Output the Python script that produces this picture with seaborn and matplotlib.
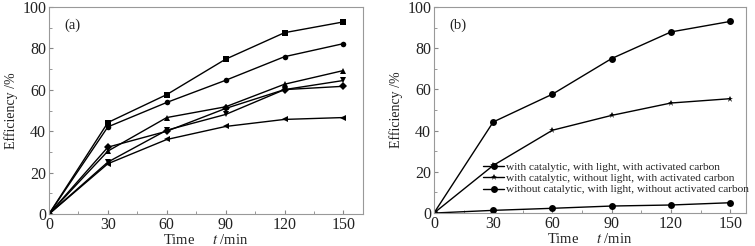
import numpy as np
import pandas as pd
import matplotlib
matplotlib.use("Agg")
import matplotlib.pyplot as plt
import seaborn as sns
from matplotlib.ticker import MultipleLocator

sns.set_theme(style="white")
plt.rcParams['font.family'] = ['Liberation Serif', 'DejaVu Serif']
plt.rcParams['mathtext.fontset'] = 'stix'

time = [0, 30, 60, 90, 120, 150]
# panel (a)
a_square = [0, 44.2, 57.7, 74.8, 87.6, 92.8]
a_circle = [0, 42.1, 53.9, 64.6, 76.0, 82.3]
a_up = [0, 30.4, 46.6, 51.8, 62.7, 69.3]
a_down = [0, 25.1, 40.5, 48.1, 60.1, 64.5]
a_diamond = [0, 32.3, 40.0, 51.0, 60.1, 61.7]
a_left = [0, 24.3, 36.0, 42.3, 45.7, 46.6]
# panel (b)
b_labels = ["with catalytic, with light, with activated carbon",
            "with catalytic, without light, with activated carbon",
            "without catalytic, with light, without activated carbon"]
b_full = [0, 44.2, 57.7, 75.0, 87.9, 93.0]
b_nolight = [0, 23.1, 40.2, 47.4, 53.4, 55.5]
b_nocat = [0, 1.3, 2.3, 3.4, 3.9, 5.0]

xticks = [0, 30, 60, 90, 120, 150]
yticks = [0, 20, 40, 60, 80, 100]

a_series = {"s1": a_square, "s2": a_circle, "s3": a_up, "s4": a_down, "s5": a_diamond, "s6": a_left}
a_markers = ["s", "o", "^", "v", "D", "<"]
df_a = pd.DataFrame([(k, t, v) for k, vals in a_series.items() for t, v in zip(time, vals)],
                    columns=["series", "t", "eff"])
b_series = dict(zip(b_labels, [b_full, b_nolight, b_nocat]))
b_markers = ["o", "*", "o"]
df_b = pd.DataFrame([(k, t, v) for k, vals in b_series.items() for t, v in zip(time, vals)],
                    columns=["series", "t", "eff"])

fig = plt.figure(figsize=(7.55, 2.46), dpi=100)
ax1 = fig.add_axes([0.0649, 0.130, 0.4159, 0.8415])
ax2 = fig.add_axes([0.5748, 0.134, 0.4133, 0.8375])

sns.lineplot(data=df_a, x="t", y="eff", hue="series", style="series", markers=a_markers,
             dashes=False, palette=["black"] * 6, ax=ax1, linewidth=1.0, markersize=4,
             markeredgewidth=0, legend=False)
sns.lineplot(data=df_b, x="t", y="eff", hue="series", style="series", markers=b_markers,
             dashes=False, palette=["black"] * 3, ax=ax2, linewidth=1.0, markersize=5,
             markeredgewidth=0, legend=True)

for ax, xmax, tag in [(ax1, 160, "(a)"), (ax2, 158, "(b)")]:
    ax.set_xlim(0, xmax)
    ax.set_ylim(0, 100)
    ax.set_xticks(xticks)
    ax.set_yticks(yticks)
    ax.xaxis.set_minor_locator(MultipleLocator(15))
    ax.yaxis.set_minor_locator(MultipleLocator(10))
    ax.tick_params(axis="both", which="major", direction="in", length=3, width=0.8,
                   labelsize=11.5, colors="#888888", labelcolor="#222222", pad=2,
                   bottom=True, left=True, top=False, right=False)
    ax.tick_params(axis="both", which="minor", direction="in", length=2, width=0.6,
                   colors="#888888", bottom=True, left=True, top=False, right=False)
    for s in ax.spines.values():
        s.set_color("#999999")
        s.set_linewidth(0.8)
    ax.set_xlabel("Time     $t$ /min", fontsize=10.5, color="#222222", labelpad=0)
    ax.set_ylabel("Efficiency /%", fontsize=10, color="#222222", labelpad=3)
    ax.text(0.05, 0.91, tag, transform=ax.transAxes, fontsize=10.5, color="#222222",
            va="center", ha="left")

leg = ax2.legend(loc="lower right", bbox_to_anchor=(1.008, 0.09), frameon=False,
                 fontsize=8.2, handlelength=1.9, handletextpad=0.1, labelspacing=0.1,
                 borderaxespad=0, borderpad=0)
for txt in leg.get_texts():
    txt.set_color("#222222")

fig.savefig("out.png", dpi=100)
